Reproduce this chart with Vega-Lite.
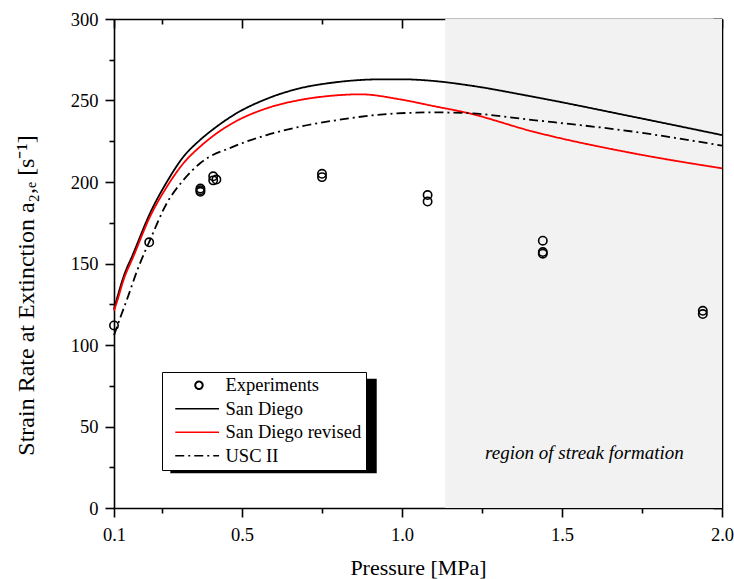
{
  "$schema": "https://vega.github.io/schema/vega-lite/v6.json",
  "width": 608,
  "height": 489,
  "autosize": "none",
  "padding": {"left": 114, "top": 19, "right": 12, "bottom": 71},
  "background": "white",
  "config": {
    "view": {"stroke": null},
    "font": "Liberation Serif",
    "axis": {
      "domainColor": "black", "tickColor": "black", "labelColor": "black", "titleColor": "black",
      "labelFont": "Liberation Serif", "titleFont": "Liberation Serif",
      "labelFontSize": 18.5, "titleFontSize": 22, "titleFontWeight": "normal",
      "grid": false, "domainWidth": 1.6, "tickWidth": 1.6, "zindex": 1,
      "labelFlush": false, "labelOverlap": false
    }
  },
  "datasets": {
    "curves": [
      {"p": 0.1, "rate": 122, "series": "San Diego"},
      {"p": 0.108, "rate": 127.6, "series": "San Diego"},
      {"p": 0.13, "rate": 142, "series": "San Diego"},
      {"p": 0.16, "rate": 156, "series": "San Diego"},
      {"p": 0.2125, "rate": 180.8, "series": "San Diego"},
      {"p": 0.265, "rate": 200, "series": "San Diego"},
      {"p": 0.317, "rate": 215.5, "series": "San Diego"},
      {"p": 0.369, "rate": 225.8, "series": "San Diego"},
      {"p": 0.421, "rate": 234, "series": "San Diego"},
      {"p": 0.473, "rate": 241, "series": "San Diego"},
      {"p": 0.577, "rate": 251, "series": "San Diego"},
      {"p": 0.681, "rate": 257.5, "series": "San Diego"},
      {"p": 0.785, "rate": 261, "series": "San Diego"},
      {"p": 0.942, "rate": 263, "series": "San Diego"},
      {"p": 1.0, "rate": 263, "series": "San Diego"},
      {"p": 1.098, "rate": 262, "series": "San Diego"},
      {"p": 1.202, "rate": 259.5, "series": "San Diego"},
      {"p": 1.41, "rate": 252.3, "series": "San Diego"},
      {"p": 1.723, "rate": 240, "series": "San Diego"},
      {"p": 2.0, "rate": 228.8, "series": "San Diego"},
      {"p": 0.1, "rate": 121, "series": "San Diego revised"},
      {"p": 0.111, "rate": 127.6, "series": "San Diego revised"},
      {"p": 0.13, "rate": 140, "series": "San Diego revised"},
      {"p": 0.16, "rate": 154, "series": "San Diego revised"},
      {"p": 0.2125, "rate": 178.7, "series": "San Diego revised"},
      {"p": 0.265, "rate": 197, "series": "San Diego revised"},
      {"p": 0.317, "rate": 211.5, "series": "San Diego revised"},
      {"p": 0.369, "rate": 221.7, "series": "San Diego revised"},
      {"p": 0.421, "rate": 229.9, "series": "San Diego revised"},
      {"p": 0.473, "rate": 236.4, "series": "San Diego revised"},
      {"p": 0.577, "rate": 245.2, "series": "San Diego revised"},
      {"p": 0.681, "rate": 250.3, "series": "San Diego revised"},
      {"p": 0.785, "rate": 253, "series": "San Diego revised"},
      {"p": 0.869, "rate": 253.8, "series": "San Diego revised"},
      {"p": 0.994, "rate": 250.7, "series": "San Diego revised"},
      {"p": 1.098, "rate": 246.6, "series": "San Diego revised"},
      {"p": 1.202, "rate": 242.5, "series": "San Diego revised"},
      {"p": 1.41, "rate": 230.9, "series": "San Diego revised"},
      {"p": 1.723, "rate": 217.6, "series": "San Diego revised"},
      {"p": 2.0, "rate": 208.4, "series": "San Diego revised"},
      {"p": 0.1, "rate": 106, "series": "USC II"},
      {"p": 0.12, "rate": 117, "series": "USC II"},
      {"p": 0.14, "rate": 127.6, "series": "USC II"},
      {"p": 0.175, "rate": 147, "series": "USC II"},
      {"p": 0.2125, "rate": 164.4, "series": "USC II"},
      {"p": 0.265, "rate": 187, "series": "USC II"},
      {"p": 0.317, "rate": 201.2, "series": "USC II"},
      {"p": 0.369, "rate": 211.5, "series": "USC II"},
      {"p": 0.473, "rate": 221.7, "series": "USC II"},
      {"p": 0.577, "rate": 228.8, "series": "USC II"},
      {"p": 0.681, "rate": 233.9, "series": "USC II"},
      {"p": 0.785, "rate": 237.6, "series": "USC II"},
      {"p": 0.942, "rate": 241.5, "series": "USC II"},
      {"p": 1.098, "rate": 242.7, "series": "USC II"},
      {"p": 1.2, "rate": 242.3, "series": "USC II"},
      {"p": 1.41, "rate": 238, "series": "USC II"},
      {"p": 1.723, "rate": 230.9, "series": "USC II"},
      {"p": 2.0, "rate": 222.3, "series": "USC II"}
    ],
    "experiments": [
      {"p": 0.1, "rate": 112, "series": "Experiments"},
      {"p": 0.21, "rate": 163, "series": "Experiments"},
      {"p": 0.37, "rate": 196, "series": "Experiments"},
      {"p": 0.37, "rate": 194, "series": "Experiments"},
      {"p": 0.37, "rate": 195, "series": "Experiments"},
      {"p": 0.41, "rate": 203.5, "series": "Experiments"},
      {"p": 0.42, "rate": 201.5, "series": "Experiments"},
      {"p": 0.41, "rate": 201, "series": "Experiments"},
      {"p": 0.75, "rate": 205, "series": "Experiments"},
      {"p": 0.75, "rate": 203, "series": "Experiments"},
      {"p": 1.08, "rate": 192, "series": "Experiments"},
      {"p": 1.08, "rate": 188, "series": "Experiments"},
      {"p": 1.44, "rate": 164, "series": "Experiments"},
      {"p": 1.44, "rate": 157, "series": "Experiments"},
      {"p": 1.44, "rate": 156, "series": "Experiments"},
      {"p": 1.94, "rate": 121, "series": "Experiments"},
      {"p": 1.94, "rate": 119, "series": "Experiments"}
    ]
  },
  "resolve": {"axis": {"x": "independent", "y": "independent"}},
  "layer": [
    {
      "data": {"values": [{"start": 1.135, "end": 2.0}]},
      "mark": {"type": "rect", "fill": "#f2f2f2"},
      "encoding": {
        "x": {"field": "start", "type": "quantitative",
          "scale": {"domain": [0.1, 2.0], "nice": false, "zero": false},
          "axis": {"orient": "bottom", "values": [0.1, 0.5, 1.0, 1.5, 2.0], "format": ".1f",
            "tickSize": 9, "labelPadding": 8, "title": "Pressure [MPa]",
            "titleY": 66, "titleBaseline": "alphabetic"}},
        "x2": {"field": "end"}
      }
    },
    {
      "data": {"values": [{"box": "shadow"}]},
      "mark": {"type": "rect", "fill": "black"},
      "encoding": {
        "x": {"datum": 0.276, "type": "quantitative",
          "scale": {"domain": [0.1, 2.0], "nice": false, "zero": false},
          "axis": {"orient": "top", "values": [0.25, 0.75, 1.25, 1.75], "tickSize": -5,
            "labels": false, "domain": false, "title": null}},
        "x2": {"datum": 0.921},
        "y": {"datum": 79.3, "type": "quantitative",
          "scale": {"domain": [0, 300], "nice": false, "zero": false},
          "axis": {"orient": "right", "values": [25, 75, 125, 175, 225, 275], "tickSize": -5,
            "labels": false, "domain": false, "title": null}},
        "y2": {"datum": 21.3}
      }
    },
    {
      "data": {"name": "curves"},
      "mark": {"type": "line", "strokeWidth": 1.8, "interpolate": "monotone"},
      "encoding": {
        "x": {"field": "p", "type": "quantitative",
          "scale": {"domain": [0.1, 2.0], "nice": false, "zero": false},
          "axis": {"orient": "bottom", "values": [0.25, 0.75, 1.25, 1.75], "tickSize": 5,
            "labels": false, "domain": false, "title": null}},
        "y": {"field": "rate", "type": "quantitative",
          "scale": {"domain": [0, 300], "nice": false, "zero": false},
          "axis": {"orient": "left", "values": [0, 50, 100, 150, 200, 250, 300], "tickSize": 9,
            "labelPadding": 7, "title": "Strain Rate at Extinction a₂,ₑ  [s⁻¹]",
            "titleFontSize": 24, "titleX": -81, "titleY": 276, "titleBaseline": "alphabetic"}},
        "color": {"field": "series", "type": "nominal",
          "scale": {"domain": ["Experiments", "San Diego", "San Diego revised", "USC II"],
            "range": ["black", "black", "#ff0000", "black"]},
          "legend": {
            "title": null, "orient": "none", "legendX": 48, "legendY": 353,
            "padding": 4, "rowPadding": 4.5, "symbolSize": 144, "labelOffset": 41,
            "labelFont": "Liberation Serif", "labelFontSize": 18.5, "labelColor": "black",
            "labelExpr": "datum.label + '\u00a0\u2009'",
            "fillColor": "white", "strokeColor": "black", "symbolStrokeWidth": 1.6, "symbolOpacity": 1,
            "encode": {"symbols": {"update": {
              "shape": {"signal": "datum.value === 'Experiments' ? 'M4.57,0A0.62,0.62,0,1,1,3.33,0A0.62,0.62,0,1,1,4.57,0' : 'M0,0H7.3'"},
              "fill": {"value": "transparent"},
              "opacity": {"value": 1},
              "strokeWidth": {"signal": "datum.value === 'Experiments' ? 2 : 1.6"}
            }}}
          }},
        "strokeDash": {"field": "series", "type": "nominal",
          "scale": {"domain": ["Experiments", "San Diego", "San Diego revised", "USC II"],
            "range": [[1, 0], [1, 0], [1, 0], [9, 4, 2, 4]]},
          "legend": {"title": null}}
      }
    },
    {
      "data": {"name": "experiments"},
      "mark": {"type": "point", "shape": "circle", "filled": false, "size": 70, "strokeWidth": 1.6, "opacity": 1},
      "encoding": {
        "x": {"field": "p", "type": "quantitative",
          "scale": {"domain": [0.1, 2.0], "nice": false, "zero": false},
          "axis": {"orient": "top", "values": [0.1, 0.5, 1.0, 1.5, 2.0], "tickSize": -9,
            "labels": false, "title": null}},
        "y": {"field": "rate", "type": "quantitative",
          "scale": {"domain": [0, 300], "nice": false, "zero": false},
          "axis": {"orient": "left", "values": [25, 75, 125, 175, 225, 275], "tickSize": 5,
            "labels": false, "domain": false, "title": null}},
        "color": {"field": "series", "type": "nominal"}
      }
    },
    {
      "data": {"values": [{"label": "region of streak formation"}]},
      "mark": {"type": "text", "font": "Liberation Serif", "fontStyle": "italic", "fontSize": 19,
        "align": "center", "baseline": "alphabetic", "color": "black"},
      "encoding": {
        "x": {"datum": 1.57, "type": "quantitative",
          "scale": {"domain": [0.1, 2.0], "nice": false, "zero": false}, "axis": null},
        "y": {"datum": 30, "type": "quantitative",
          "scale": {"domain": [0, 300], "nice": false, "zero": false},
          "axis": {"orient": "right", "values": [0, 50, 100, 150, 200, 250, 300], "tickSize": -9,
            "labels": false, "title": null}},
        "text": {"field": "label"}
      }
    }
  ]
}
